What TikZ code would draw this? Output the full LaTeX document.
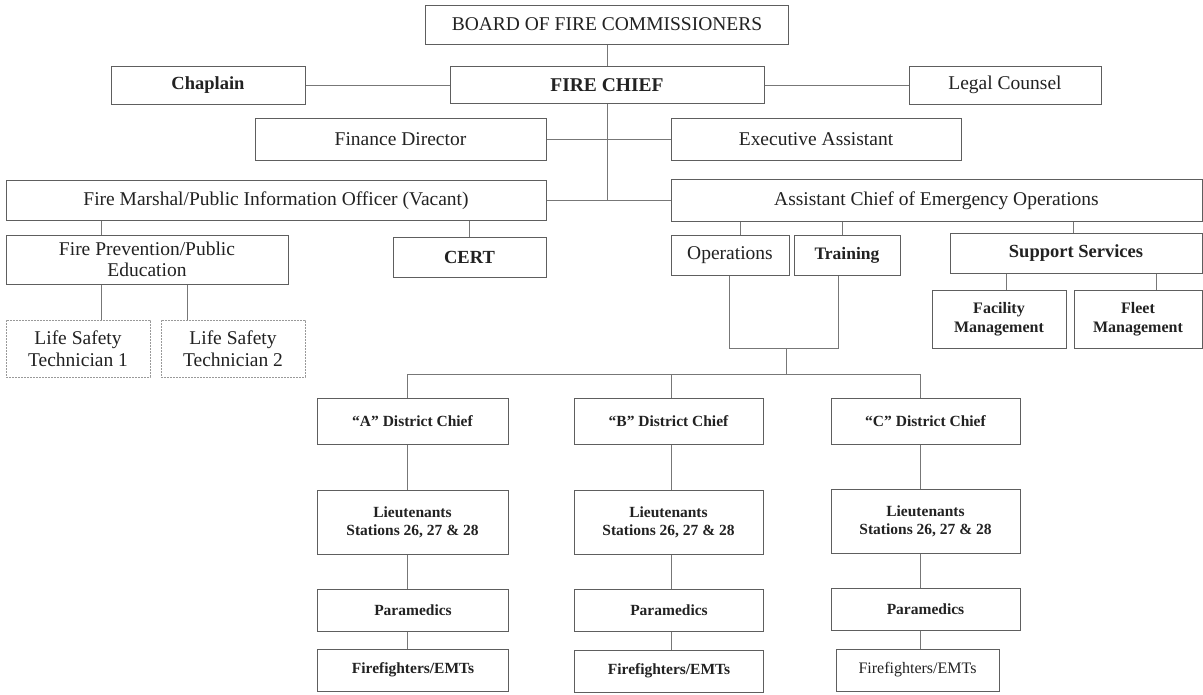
\documentclass[tikz,border=0pt]{standalone}
\usepackage{fontspec}
\setmainfont{Liberation Serif}
\definecolor{boxline}{HTML}{5E5E5E}
\definecolor{linkline}{HTML}{777777}
\definecolor{inktext}{HTML}{222222}
\begin{document}
\begin{tikzpicture}[
      x=1pt, y=-1pt,
      every node/.style={draw=boxline, line width=1pt, fill=white, text=inktext, align=center, inner sep=1pt},
      orgreg/.style={font=\fontsize{19.5}{21}\selectfont},
      orgbold/.style={font=\fontsize{18.5}{21}\selectfont\bfseries},
      orgsmall/.style={font=\fontsize{15.5}{18}\selectfont\bfseries},
      orgdot/.style={draw=gray!80, dash pattern=on 2pt off 1pt},
      link/.style={draw=linkline, line width=1pt}
    ]
    \useasboundingbox (0,0) rectangle (1203,694);

    % top of the chart
    \node[orgreg, minimum width=363, minimum height=39] (board) at (607,24.5) {BOARD OF FIRE COMMISSIONERS};
    \node[orgbold, font=\fontsize{19.5}{21}\selectfont\bfseries, minimum width=314, minimum height=37] (chief) at (607,85) {FIRE CHIEF};
    \node[orgbold, minimum width=194, minimum height=38] (chaplain) at (208,85) {Chaplain};
    \node[orgreg, minimum width=192, minimum height=38] (legal) at (1005,85) {Legal Counsel};
    \node[orgreg, minimum width=291, minimum height=42] (finance) at (400.5,139.5) {Finance Director};
    \node[orgreg, minimum width=290, minimum height=42] (exec) at (816,139.5) {Executive Assistant};
    \node[orgreg, minimum width=540, minimum height=40] (marshal) at (276,200.5) {Fire Marshal/Public Information Officer (Vacant)};
    \node[orgreg, minimum width=531, minimum height=42] (asst) at (936.5,200.5) {Assistant Chief of Emergency Operations};

    % fire marshal side
    \node[orgreg, minimum width=282, minimum height=49] (fireprev) at (147,259.5) {Fire Prevention/Public\\Education};
    \node[orgbold, minimum width=153, minimum height=40] (cert) at (469.5,257) {CERT};
    \node[orgreg, orgdot, font=\fontsize{19.5}{22}\selectfont, minimum width=144, minimum height=57] (lsone) at (78,348.5) {Life Safety\\Technician 1};
    \node[orgreg, orgdot, font=\fontsize{19.5}{22}\selectfont, minimum width=144, minimum height=57] (lstwo) at (233,348.5) {Life Safety\\Technician 2};

    % assistant chief side
    \node[orgreg, minimum width=118, minimum height=40] (ops) at (730,255) {Operations};
    \node[orgbold, font=\fontsize{17.5}{21}\selectfont\bfseries, minimum width=106, minimum height=40] (training) at (847,255) {Training};
    \node[orgbold, minimum width=252, minimum height=40] (support) at (1076,253) {Support Services};
    \node[orgsmall, font=\fontsize{16}{19}\selectfont\bfseries, minimum width=134, minimum height=58] (facility) at (999,319) {Facility\\Management};
    \node[orgsmall, font=\fontsize{16}{19}\selectfont\bfseries, minimum width=128, minimum height=58] (fleet) at (1138,319) {Fleet\\Management};

    % district columns
    \node[orgsmall, minimum width=191, minimum height=46] (dcA) at (412.5,421) {``A'' District Chief};
    \node[orgsmall, minimum width=189, minimum height=46] (dcB) at (668.5,421) {``B'' District Chief};
    \node[orgsmall, minimum width=189, minimum height=46] (dcC) at (925.5,421) {``C'' District Chief};
    \node[orgsmall, minimum width=191, minimum height=64] (ltA) at (412.5,522) {Lieutenants\\Stations 26, 27 \& 28};
    \node[orgsmall, minimum width=189, minimum height=64] (ltB) at (668.5,522) {Lieutenants\\Stations 26, 27 \& 28};
    \node[orgsmall, minimum width=189, minimum height=64] (ltC) at (925.5,521) {Lieutenants\\Stations 26, 27 \& 28};
    \node[orgsmall, minimum width=191, minimum height=42] (pmA) at (413,610) {Paramedics};
    \node[orgsmall, minimum width=189, minimum height=42] (pmB) at (669,610) {Paramedics};
    \node[orgsmall, minimum width=189, minimum height=42] (pmC) at (925.5,609) {Paramedics};
    \node[orgsmall, minimum width=191, minimum height=42] (ffA) at (413,670) {Firefighters/EMTs};
    \node[orgsmall, minimum width=189, minimum height=42] (ffB) at (669,671) {Firefighters/EMTs};
    \node[orgreg, font=\fontsize{16}{19}\selectfont, minimum width=163, minimum height=42] (ffC) at (917.5,670) {Firefighters/EMTs};

    % junction points
    \coordinate (opsfoot) at (729,348);
    \coordinate (trnfoot) at (838,348);
    \coordinate (joinmid) at (786,348);
    \coordinate (busmid) at (786,374);
    \coordinate (busA) at (407,374);
    \coordinate (busB) at (671,374);
    \coordinate (busC) at (920,374);

    % connectors
    \draw[link] (board) -- (chief);
    \draw[link] (chaplain) -- (chief);
    \draw[link] (chief) -- (legal);
    \draw[link] (finance) -- (exec);
    \draw[link] (marshal) -- (asst);
    \draw[link] (chief.south) -- (chief.south |- marshal.east);
    \draw[link] (marshal.south -| 101,0) -- (fireprev.north -| 101,0);
    \draw[link] (marshal.south -| cert.north) -- (cert.north);
    \draw[link] (fireprev.south -| 101,0) -- (lsone.north -| 101,0);
    \draw[link] (fireprev.south -| 187,0) -- (lstwo.north -| 187,0);
    \draw[link] (asst.south -| 740,0) -- (ops.north -| 740,0);
    \draw[link] (asst.south -| 842,0) -- (training.north -| 842,0);
    \draw[link] (asst.south -| 1073,0) -- (support.north -| 1073,0);
    \draw[link] (support.south -| 1006,0) -- (facility.north -| 1006,0);
    \draw[link] (support.south -| 1156,0) -- (fleet.north -| 1156,0);
    \draw[link] (ops.south -| opsfoot) -- (opsfoot) -- (trnfoot) -- (training.south -| trnfoot);
    \draw[link] (joinmid) -- (busmid);
    \draw[link] (busA) -- (busC);
    \draw[link] (busA) -- (dcA.north -| busA);
    \draw[link] (busB) -- (dcB.north -| busB);
    \draw[link] (busC) -- (dcC.north -| busC);
    \draw[link] (dcA.south -| busA) -- (ltA.north -| busA);
    \draw[link] (dcB.south -| busB) -- (ltB.north -| busB);
    \draw[link] (dcC.south -| busC) -- (ltC.north -| busC);
    \draw[link] (ltA.south -| busA) -- (pmA.north -| busA);
    \draw[link] (ltB.south -| busB) -- (pmB.north -| busB);
    \draw[link] (ltC.south -| busC) -- (pmC.north -| busC);
    \draw[link] (pmA.south -| busA) -- (ffA.north -| busA);
    \draw[link] (pmB.south -| busB) -- (ffB.north -| busB);
    \draw[link] (pmC.south -| busC) -- (ffC.north -| busC);

    \end{tikzpicture}
\end{document}
